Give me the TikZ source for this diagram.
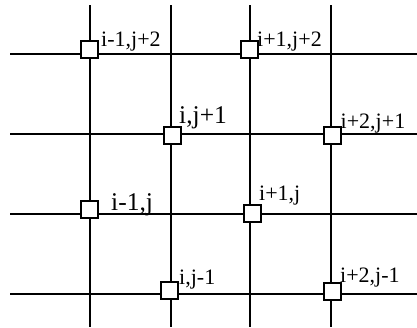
\documentclass[tikz,border=0pt]{standalone}
\usepackage{fontspec}
\setmainfont{Liberation Serif}
\usepackage{tikz}
\tikzset{
  gridline/.style={line width=2pt},
  cell/.style={draw, line width=2pt, fill=white, minimum size=17pt, inner sep=0pt},
  lbl/.style={anchor=base west, inner sep=0pt, font=\fontsize{22}{22}\selectfont},
  biglbl/.style={lbl, font=\fontsize{25.5}{25.5}\selectfont},
}

\begin{document}
\begin{tikzpicture}[x=1pt, y=-1pt]
  \useasboundingbox (0,0) rectangle (417,327);
  % grid
  \foreach \gx in {90,171,250,331}
    \draw[gridline] (\gx,5) -- (\gx,327);
  \foreach \gy in {54,134,214,294}
    \draw[gridline] (10,\gy) -- (417,\gy);
  % cells
  \node[cell] (c1) at (89,49) {};
  \node[cell] (c2) at (249,49) {};
  \node[cell] (c3) at (172,135) {};
  \node[cell] (c4) at (332,135) {};
  \node[cell] (c5) at (89,209) {};
  \node[cell] (c6) at (252,213) {};
  \node[cell] (c7) at (169,290) {};
  \node[cell] (c8) at (332,291) {};
  % labels
  \node[lbl] (l1) at (101,46) {i-1,j+2};
  \node[lbl] (l2) at (257,46) {i+1,j+2};
  \node[biglbl] (l3) at (179,123) {i,j+1};
  \node[lbl] (l4) at (340.5,128.5) {i+2,j+1};
  \node[biglbl] (l5) at (111,210) {i-1,j};
  \node[lbl] (l6) at (259,200) {i+1,j};
  \node[lbl] (l7) at (179,284.5) {i,j-1};
  \node[lbl] (l8) at (340,282) {i+2,j-1};
\end{tikzpicture}
\end{document}
